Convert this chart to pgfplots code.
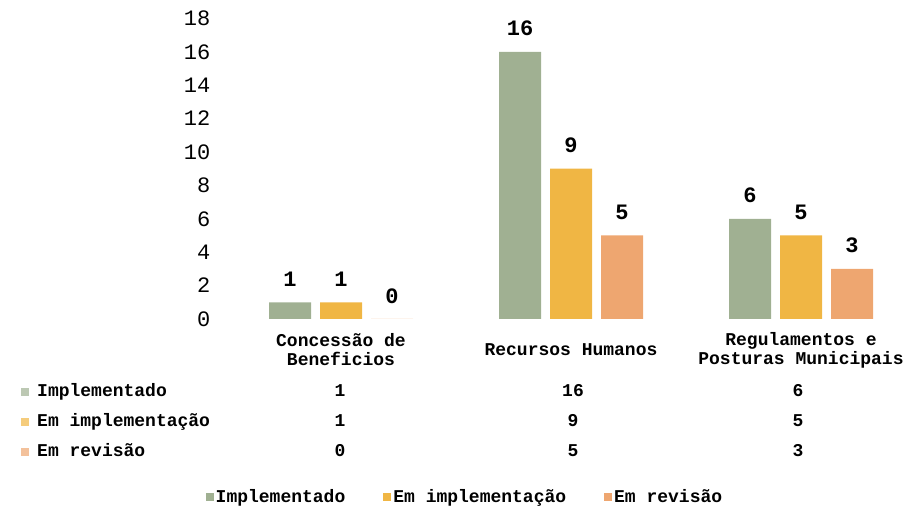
\documentclass[border=0pt]{standalone}
\usepackage{fontspec}
\setmainfont{Liberation Mono}
\usepackage{pgfplots}
\usepackage{pgfplotstable}
\pgfplotsset{compat=1.18}

\definecolor{cImpl}{RGB}{160,176,146}
\definecolor{cEmImpl}{RGB}{240,182,68}
\definecolor{cRev}{RGB}{238,166,112}

% one row per category: 0 Concessão de Beneficios, 1 Recursos Humanos, 2 Regulamentos
\pgfplotstableread{
x impl emimpl rev
0 1 1 0
1 16 9 5
2 6 5 3
}\dados

\newcommand\cell[2]{\pgfplotstablegetelem{#1}{#2}\of\dados\pgfplotsretval}
\newcommand\lblfont{\bfseries\fontsize{18}{19}\selectfont}

\begin{document}
\begin{tikzpicture}[x=1pt,y=1pt]
\useasboundingbox (0,0) rectangle (909,510);
\begin{axis}[
  at={(214.5pt,191pt)}, anchor=south west,
  scale only axis, width=690pt, height=300.6pt,
  xmin=-0.55, xmax=2.45, ymin=0, ymax=18,
  ybar=9pt, bar width=42pt,
  axis line style={draw=none},
  major tick length=0pt,
  ytick={0,2,...,18},
  xtick={0,1,2},
  xticklabels={{Concessão de\\Beneficios},{Recursos Humanos},{Regulamentos e\\Posturas Municipais}},
  xticklabel style={align=center, anchor=center, yshift=-31pt, font=\lblfont},
  yticklabel style={anchor=east, inner sep=0pt, xshift=-4pt, font=\fontsize{22}{24}\selectfont},
  /pgf/number format/assume math mode=true,
  nodes near coords,
  every node near coord/.append style={font=\bfseries\fontsize{22}{24}\selectfont, black, anchor=south, inner sep=0pt, yshift=15.5pt},
  clip=false,
  legend columns=3,
  legend style={at={(0.363,-0.592)}, anchor=center, draw=none, fill=none,
    font=\lblfont, nodes={inner sep=2pt},
    /tikz/every even column/.append style={column sep=36pt}},
  sq/.style={legend image code/.code={\fill[##1, draw=none] (0pt,-4pt) rectangle (8pt,4pt);}},
]
\addplot[fill=cImpl, draw=none, sq] table[x=x, y=impl] {\dados};
\addplot[fill=cEmImpl, draw=none, sq] table[x=x, y=emimpl] {\dados};
\addplot[fill=cRev, draw=none, sq] table[x=x, y=rev] {\dados};
\legend{Implementado, Em implementação, Em revisão}
\end{axis}

% data table under the chart
\begin{scope}[every node/.style={font=\lblfont, inner sep=0pt, anchor=base}]
  \fill[cImpl!70]   (21,114) rectangle (29,122);
  \fill[cEmImpl!70] (21,84)  rectangle (29,92);
  \fill[cRev!70]    (21,54)  rectangle (29,62);
  \node[anchor=base west] at (37,113) {Implementado};
  \node[anchor=base west] at (37,83)  {Em implementação};
  \node[anchor=base west] at (37,53)  {Em revisão};
  \node at (340,113) {\cell{0}{impl}};
  \node at (573,113) {\cell{1}{impl}};
  \node at (798,113) {\cell{2}{impl}};
  \node at (340,83)  {\cell{0}{emimpl}};
  \node at (573,83)  {\cell{1}{emimpl}};
  \node at (798,83)  {\cell{2}{emimpl}};
  \node at (340,53)  {\cell{0}{rev}};
  \node at (573,53)  {\cell{1}{rev}};
  \node at (798,53)  {\cell{2}{rev}};
\end{scope}
\end{tikzpicture}
\end{document}
